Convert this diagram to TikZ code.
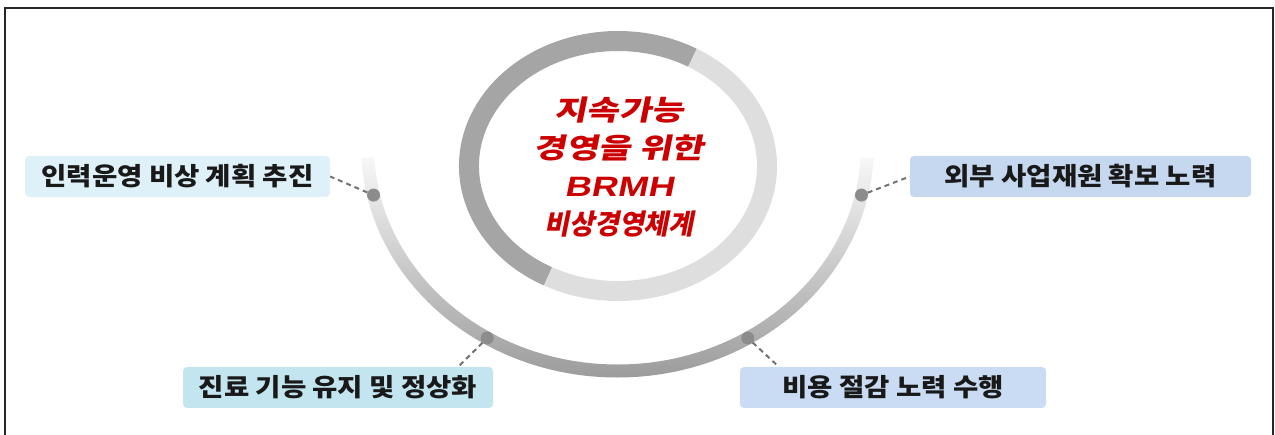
\documentclass[tikz,border=0pt]{standalone}
\usepackage{fontspec}
\setmainfont{Noto Sans CJK KR}[FakeStretch=1.1]
\newfontfamily\titlefont[FakeSlant=0.2,FakeStretch=1.26]{Noto Sans CJK KR}
\newfontfamily\titlenarrow[FakeSlant=0.2,FakeStretch=0.97]{Noto Sans CJK KR}
\newfontfamily\titlelatin[FakeSlant=0.2,FakeStretch=1.3]{Liberation Sans}
\definecolor{staffcol}{HTML}{DEF1F9}
\definecolor{carecol}{HTML}{C3E5F0}
\definecolor{fundcol}{HTML}{C5D8F0}
\definecolor{costcol}{HTML}{CADCF3}
\definecolor{ringdark}{HTML}{A5A5A5}
\definecolor{ringlight}{HTML}{DEDEDE}
\definecolor{arctop}{HTML}{F7F7F7}
\definecolor{arcbot}{HTML}{999999}
\definecolor{titlered}{HTML}{CC0000}
\tikzset{
  task/.style={rounded corners=4pt, inner sep=0pt, minimum height=41pt,
    text=black!90, font=\fontsize{25}{30}\selectfont\bfseries},
  dot/.style={circle, fill=black!45, inner sep=0pt, minimum size=13pt},
  link/.style={draw=black!55, line width=2pt, dash pattern=on 5pt off 4pt}
}
\begin{document}
\begin{tikzpicture}[x=1pt, y=-1pt]
  \useasboundingbox (0,0) rectangle (1275,435);
  \draw[line width=1.5pt, black!85] (5,440) -- (5,8) -- (1273,8) -- (1273,440);
  \draw[line width=20pt, ringdark] (618,166) ++(118:149 and 125)
    arc[start angle=118, end angle=300, x radius=149, y radius=125];
  \draw[line width=20pt, ringlight] (618,166) ++(300:149 and 125)
    arc[start angle=300, end angle=478, x radius=149, y radius=125];
  \node[text=titlered, align=center,
    font=\titlefont\bfseries\fontsize{28}{38}\selectfont] (title) at (619,167)
    {지속가능\\경영을 위한\\{\titlelatin BRMH}\\{\titlenarrow 비상경영체계}};
  \begin{scope}[shift={(617.5,146)}]
    \shade[top color=arctop, bottom color=arcbot]
      (177:256.5 and 231.5) arc[start angle=177, end angle=3, x radius=256.5, y radius=231.5]
      -- (3:243.5 and 218.5) arc[start angle=3, end angle=177, x radius=243.5, y radius=218.5]
      -- cycle;
    \path
      (167.4:250 and 225) node[dot] (d1){}
      (121.4:250 and 225) node[dot] (d2){}
      (12.6:250 and 225) node[dot] (d3){}
      (58.6:250 and 225) node[dot] (d4){};
  \end{scope}
  \node[task, fill=staffcol, minimum width=305pt] (staff) at (177.5,176.5) {인력운영 비상 계획 추진};
  \node[task, fill=carecol, minimum width=310pt] (care) at (338,387.5) {진료 기능 유지 및 정상화};
  \node[task, fill=fundcol, minimum width=341pt] (fund) at (1080.5,176.5) {외부 사업재원 확보 노력};
  \node[task, fill=costcol, minimum width=306pt] (cost) at (893,387.5) {비용 절감 노력 수행};
  \coordinate (care-in) at ([xshift=-35pt]care.north east);
  \coordinate (cost-in) at ([xshift=39pt]cost.north west);
  \begin{scope}[link]
    \draw (d1) to (staff.east);
    \draw (d2) to (care-in);
    \draw (d3) to (fund.west);
    \draw (d4) to (cost-in);
  \end{scope}
\end{tikzpicture}
\end{document}
